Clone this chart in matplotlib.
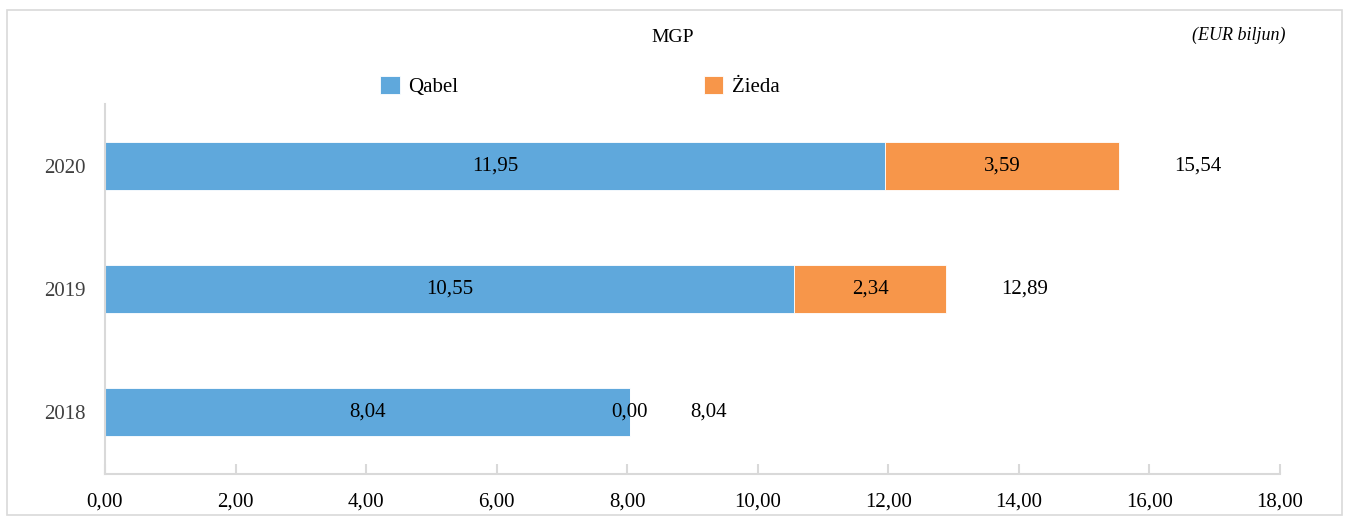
import matplotlib.pyplot as plt
from matplotlib.patches import Rectangle
from matplotlib.ticker import FuncFormatter

years = ['2018', '2019', '2020']
qabel = [8.04, 10.55, 11.95]
zieda = [0.00, 2.34, 3.59]
totals = [8.04, 12.89, 15.54]

blue = '#5FA8DC'
orange = '#F7964A'
grid_grey = '#D9D9D9'


def fmt(v):
  return ('%.2f' % v).replace('.', ',')


plt.rcParams['font.family'] = ['Liberation Serif', 'DejaVu Serif']

f = plt.figure(figsize=(13.49, 5.19), dpi=100)
ax = f.add_axes([0.0778, 0.0867, 0.8711, 0.7129])

pos = range(len(years))
b1 = ax.barh(pos, qabel, height=0.39, color=blue, edgecolor='white', linewidth=0.6, label='Qabel')
b2 = ax.barh(pos, zieda, left=qabel, height=0.39, color=orange, edgecolor='white', linewidth=0.6, label='Żieda')

for i in pos:
  ax.text(qabel[i] / 2, i, fmt(qabel[i]), ha='center', va='center', fontsize=15)
  ax.text(qabel[i] + zieda[i] / 2, i, fmt(zieda[i]), ha='center', va='center', fontsize=15)
  ax.text(totals[i] + 1.2, i, fmt(totals[i]), ha='center', va='center', fontsize=15)

ax.set_xlim(0, 18)
ax.set_ylim(-0.5, 2.5)
ax.set_xticks(range(0, 19, 2))
ax.xaxis.set_major_formatter(FuncFormatter(lambda v, p: fmt(v)))
ax.set_yticks(list(pos))
ax.set_yticklabels(years)

for s in ['top', 'right']:
  ax.spines[s].set_visible(False)
for s in ['left', 'bottom']:
  ax.spines[s].set_color(grid_grey)
  ax.spines[s].set_linewidth(1.5)

ax.tick_params(axis='x', direction='in', length=7, width=1.5, color=grid_grey,
               labelsize=15, labelcolor='black', pad=13)
ax.tick_params(axis='y', length=0, labelsize=15, labelcolor='#404040', pad=14)

f.text(0.4985, 0.928, 'MGP', ha='center', va='center', fontsize=14)
f.text(0.9185, 0.932, '(EUR biljun)', ha='center', va='center', fontsize=13, style='italic')

leg = f.legend(handles=[b1, b2], loc='center left', bbox_to_anchor=(0.2815, 0.834), ncol=2,
               frameon=False, fontsize=15, handlelength=0.95, handleheight=0.95,
               handletextpad=0.4, columnspacing=11.8, borderaxespad=0, borderpad=0)

f.patches.append(Rectangle((0.005, 0.008), 0.99, 0.972, transform=f.transFigure,
                           fill=False, edgecolor=grid_grey, linewidth=1.2))

plt.savefig('out.png', dpi=100)
